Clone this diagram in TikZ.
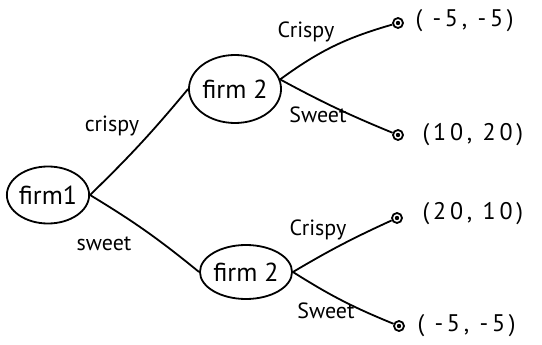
\documentclass[tikz,border=0pt]{standalone}
\usepackage{fontspec}
\setmainfont{PT Sans}
\usetikzlibrary{shapes.geometric}
\begin{document}
\begin{tikzpicture}[x=1pt,y=-1pt,
  firm/.style={ellipse,draw,line width=1.8pt,inner sep=0pt,font=\fontsize{26}{26}\selectfont},
  leaf/.style={circle,draw,line width=1.8pt,minimum size=10pt,inner sep=0pt,
    path picture={\fill (path picture bounding box.center) circle (2.2pt);}},
  edge/.style={line width=1.8pt},
  elab/.style={font=\fontsize{22}{22}\selectfont},
  pay/.style={anchor=west,font=\fontsize{24}{24}\selectfont\addfontfeatures{LetterSpace=16}}]
\useasboundingbox (0,0) rectangle (542,345);
\node[firm,minimum width=80pt,minimum height=57pt] (f1) at (48,195) {firm1};
\node[firm,minimum width=90pt,minimum height=68pt] (f2a) at (235,89) {firm 2};
\node[firm,minimum width=88pt,minimum height=54pt] (f2b) at (246,272) {firm 2};
\node[leaf] (l1) at (398,23) {};
\node[leaf] (l2) at (398,135) {};
\node[leaf] (l3) at (397,218) {};
\node[leaf] (l4) at (399,326) {};
\node[pay] (p1) at (412,21) {( -5, -5)};
\node[pay] (p2) at (419,135) {(10, 20)};
\node[pay] (p3) at (419,214) {(20, 10)};
\node[pay] (p4) at (414,326) {( -5, -5)};
\draw[edge] (f1.east) to[bend right=3] (f2a.west);
\draw[edge] (f1.east) to[bend left=4] (f2b.west);
\draw[edge] (f2a.12) to[bend left=10] (l1);
\draw[edge] (f2a.12) to[bend right=3] (l2);
\draw[edge] (f2b.east) to[bend left=3] (l3);
\draw[edge] (f2b.east) to[bend right=5] (l4);
\node[elab] (c1) at (112,126) {crispy};
\node[elab] (s1) at (104,244) {sweet};
\node[elab] (c2) at (306,32) {Crispy};
\node[elab] (s2) at (318,115) {Sweet};
\node[elab] (c3) at (318,230) {Crispy};
\node[elab] (s3) at (326,311) {Sweet};
\end{tikzpicture}
\end{document}
